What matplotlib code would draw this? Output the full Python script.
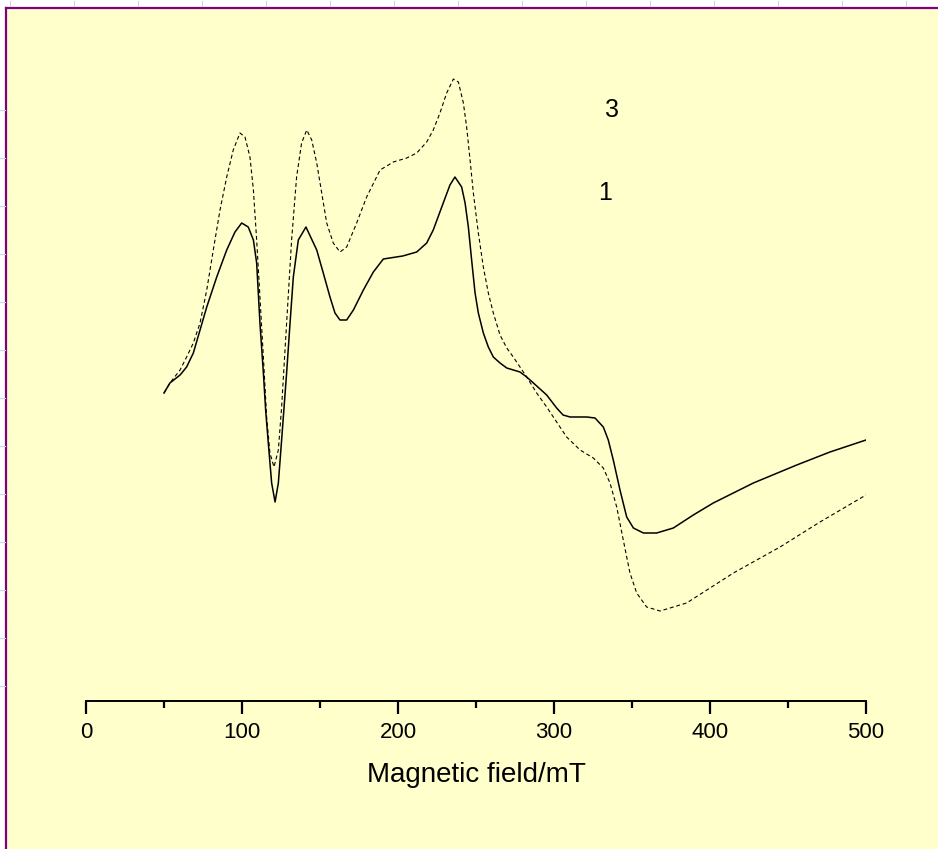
import matplotlib
matplotlib.use("Agg")
import matplotlib.pyplot as plt
from matplotlib.patches import Rectangle
from matplotlib.lines import Line2D

plt.rcParams['font.family'] = ['Liberation Sans', 'DejaVu Sans']

# EPR spectra (field in mT, intensity in arbitrary units)
field_1 = [50, 53.8, 60.3, 64.5, 68.8, 73.1, 77.4, 83.8, 90.2, 95.5, 99.8, 104, 107.3,
           109.4, 111.5, 113.7, 115.2, 116.7, 119, 121.2, 123.3, 125.4, 128.6, 130.8,
           132.9, 136.1, 141, 147.9, 152.1, 156.4, 159.6, 162.8, 167.1, 171.4, 177.8,
           184.2, 190.6, 203, 212, 218.4, 222.6, 229, 233.3, 236.5, 240.8, 243, 245.1,
           247.2, 249.4, 251.5, 254.7, 257.9, 261.1, 265.4, 269.7, 278.2, 282.5, 286.8,
           295.3, 301.7, 305.8, 310.3, 321, 326.3, 331.6, 334.8, 338, 342.3, 346.6,
           350.9, 357.3, 365.8, 376.5, 389.3, 402.1, 427.8, 455.6, 476.9, 500]
signal_1 = [308, 318, 326, 334, 348, 371, 394, 424, 451, 469, 478, 474, 461,
            438, 378, 328, 290, 261, 218, 199, 218, 261, 328, 378,
            424, 461, 474, 451, 428, 404, 388, 381, 381, 391, 411,
            429, 442, 445, 449, 458, 471, 498, 516, 524, 514, 498, 474,
            441, 408, 388, 368, 354, 344, 338, 333, 329, 324, 318,
            306, 293, 286, 284, 284, 283, 274, 261, 241, 211, 184,
            173, 168, 168, 173, 186, 198, 218, 236, 249, 261]

field_3 = [50, 53.8, 60.3, 64.5, 68.8, 73.1, 77.4, 81.6, 85.9, 90.2, 94.4, 98.7, 101.9,
           105.1, 107.3, 109.4, 111.5, 113.7, 115.8, 117.9, 120.5, 123.3, 125.4, 128.6,
           131.8, 135, 138.2, 141.5, 144.7, 147.9, 151.1, 154.3, 158.5, 162.8, 167.1,
           173.5, 179.9, 188.5, 197, 205.6, 212, 218.4, 222.6, 226.9, 231.2, 235.5,
           238.7, 241.9, 244, 246.2, 248.3, 251.5, 254.7, 257.9, 261.1, 265.4, 269.7,
           273.9, 278.2, 282.5, 288.9, 295.3, 301.7, 308.1, 316.7, 325.2, 331.6, 335.9,
           340.2, 344.4, 348.7, 353, 359.4, 368, 385, 415, 444.9, 470.5, 500]
signal_3 = [308, 318, 331, 344, 358, 378, 411, 451, 491, 524, 551, 568, 564,
            544, 511, 461, 404, 344, 284, 248, 234, 251, 294, 378,
            461, 524, 558, 571, 561, 538, 508, 478, 458, 449, 454,
            478, 504, 531, 539, 543, 548, 559, 571, 588, 608, 622,
            619, 598, 574, 541, 508, 468, 434, 408, 388, 366, 353,
            344, 334, 324, 308, 294, 279, 264, 251, 243, 233, 218,
            194, 161, 128, 108, 94, 90, 98, 128, 154, 179, 206]

tick_values = [0, 100, 200, 300, 400, 500]

W, H = 938, 849
fig = plt.figure(figsize=(W / 100, H / 100), dpi=100, facecolor='white')

# yellow page with purple frame on the left and top
fig.patches.append(Rectangle((6 / W, 0), 1, (H - 8) / H, transform=fig.transFigure,
                             facecolor='#FFFFCC', edgecolor='none', zorder=-10))
fig.add_artist(Line2D([6 / W, 6 / W], [0, (H - 8) / H], color='#800080', lw=1.6,
                      transform=fig.transFigure))
fig.add_artist(Line2D([6 / W, 1], [(H - 8) / H, (H - 8) / H], color='#800080', lw=1.6,
                      transform=fig.transFigure))
# faint guide marks outside the frame
for px in range(10, W, 64):
    fig.add_artist(Line2D([px / W, px / W], [(H - 1) / H, (H - 6) / H], color='#C8D2F2',
                          lw=0.8, transform=fig.transFigure))
for py in range(110, 700, 48):
    fig.add_artist(Line2D([0, 5 / W], [(H - py) / H, (H - py) / H], color='#C8D2F2',
                          lw=0.8, transform=fig.transFigure))

ax = fig.add_axes([86 / W, (H - 701) / H, 780 / W, 693 / H])
ax.set_facecolor('none')
ax.set_zorder(5)

ax.plot(field_3, signal_3, color='black', lw=0.8, linestyle=(0, (3.5, 2.5)))
ax.plot(field_1, signal_1, color='black', lw=1.1)

ax.text(337, 591, '3', fontsize=18, ha='center', va='center')
ax.text(333, 508, '1', fontsize=18, ha='center', va='center')

ax.set_xlim(0, 500)
ax.set_ylim(0, 693)
for side in ['left', 'right', 'top']:
    ax.spines[side].set_visible(False)
ax.spines['bottom'].set_linewidth(1.4)
ax.set_yticks([])
ax.set_xticks(tick_values)
ax.set_xticks([50, 150, 250, 350, 450], minor=True)
ax.tick_params(axis='x', which='major', direction='out', length=9, width=1.6,
               labelsize=16, pad=6)
ax.tick_params(axis='x', which='minor', direction='out', length=5, width=1.6)
ax.set_xlabel('Magnetic field/mT', fontsize=20, labelpad=14)

fig.savefig('out.png', dpi=100, facecolor=fig.get_facecolor())
